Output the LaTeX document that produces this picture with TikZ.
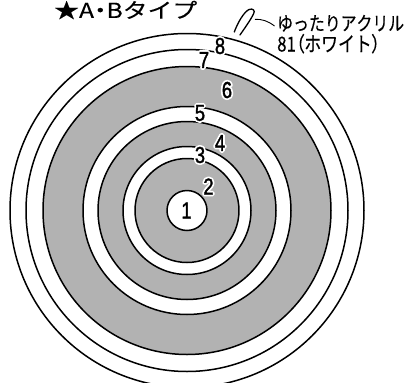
\documentclass[tikz,border=0pt]{standalone}
\usepackage{fontspec}
\setmainfont{Liberation Sans}
\newfontfamily\digitfont[FakeStretch=0.8,FakeBold=1.5]{Liberation Sans}
\newfontfamily\halofont[FakeStretch=0.8,FakeBold=17]{Liberation Sans}
\newfontfamily\jpfont[FakeStretch=0.82,FakeBold=0.3,Kerning=Off]{Noto Sans CJK JP}
\newfontfamily\jpfontp[FakeStretch=0.82,FakeBold=0.3,Kerning=Off,RawFeature=+palt]{Noto Sans CJK JP}
\newfontfamily\titlefont[FakeStretch=1.2,FakeBold=0.2]{Noto Sans CJK JP}
\newfontfamily\titlefontp[FakeStretch=1.2,FakeBold=0.2,RawFeature=+palt]{Noto Sans CJK JP}
\usetikzlibrary{calc}
\definecolor{ringgray}{RGB}{178,178,178}
\tikzset{
  ring/.style={draw=black, line width=1.5bp},
  numlbl/.style={font=\digitfont\fontsize{23bp}{23bp}\selectfont, inner sep=0pt},
  halolbl/.style={font=\halofont\fontsize{23bp}{23bp}\selectfont, inner sep=0pt, text=white, line join=round},
  jptext/.style={font=\jpfont\fontsize{19bp}{19bp}\selectfont, inner sep=0pt, anchor=west},
  titletext/.style={font=\titlefont\fontsize{20bp}{20bp}\selectfont, inner sep=0pt, anchor=west},
  leader/.style={draw=black, line width=0.9bp},
  tagline/.style={draw=black, line width=1.3bp, line cap=round},
}
\newcommand\ringnum[3]{%
  \node[halolbl] (#1h) at (#2) {#3};
  \node[numlbl] (#1) at (#2) {#3};}
\begin{document}
\begin{tikzpicture}[x=1bp,y=-1bp,line join=round]
\useasboundingbox (0,0) rectangle (410,383);
\clip (0,0) rectangle (410,383);
\coordinate (O) at (187,210.5);
\fill[ringgray] (O) circle[radius=144];
\fill[white] (O) circle[radius=104];
\fill[ringgray] (O) circle[radius=89];
\fill[white] (O) circle[radius=64];
\fill[ringgray] (O) circle[radius=52];
\fill[white] (O) circle[radius=20];
\foreach \r in {20,52,64,89,104,144,161,177} \draw[ring] (O) circle[radius=\r];
\ringnum{n1}{186.5,210.5}{1}
\ringnum{n2}{208.5,186.5}{2}
\ringnum{n3}{200,155}{3}
\ringnum{n4}{220,143}{4}
\ringnum{n5}{200,113}{5}
\ringnum{n6}{227,90}{6}
\ringnum{n7}{204,60}{7}
\ringnum{n8}{220,46}{8}
\node[titletext] (title) at (54,10) {\resizebox{143bp}{!}{★A{\titlefontp ・}Bタイプ}};
\node[jptext] (jp1) at (277,23.3) {\resizebox{127bp}{!}{ゆったりアクリル}};
\node[jptext] (jp2) at (277,43.7) {\resizebox{103bp}{!}{81{\jpfontp （}ホワイト{\jpfontp ）}}};
% yarn loop
\draw[tagline] (234.3,32) .. controls (238,22) and (244,12) .. (249,9.5)
  .. controls (253,8) and (255.5,10.5) .. (253.5,14)
  .. controls (250,21) and (244,29) .. (240,35);
\coordinate (tagR) at (255,19.3);
\draw[leader] (tagR) .. controls (262,19) and (268,21) .. ($(jp1.west)+(-2.5,2.7)$);
\end{tikzpicture}
\end{document}
